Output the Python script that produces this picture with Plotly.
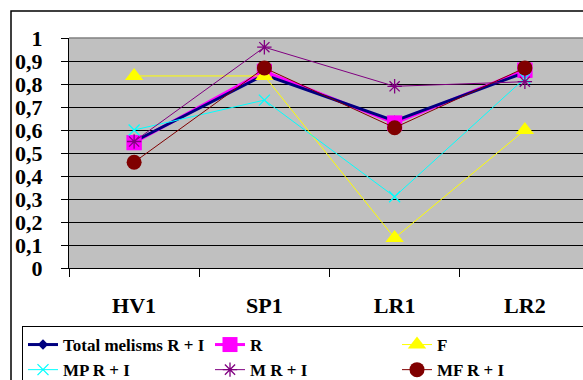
import plotly.graph_objects as go

categories = ["HV1", "SP1", "LR1", "LR2"]
total = [0.55, 0.84, 0.64, 0.85]
r_vals = [0.545, 0.855, 0.63, 0.86]
f_vals = [0.835, 0.835, 0.13, 0.60]
mp_vals = [0.60, 0.73, 0.31, 0.825]
m_vals = [0.55, 0.96, 0.79, 0.81]
mf_vals = [0.46, 0.87, 0.61, 0.87]

y_tickvals = [0, 0.1, 0.2, 0.3, 0.4, 0.5, 0.6, 0.7, 0.8, 0.9, 1]
y_ticktext = ["0", "0,1", "0,2", "0,3", "0,4", "0,5", "0,6", "0,7", "0,8", "0,9", "1"]

FONT = "Liberation Serif"

r_marker = dict(symbol="square", size=15, color="#FF00FF")

fig = go.Figure()
# R line drawn first so the navy line sits on top of it
fig.add_trace(go.Scatter(x=categories, y=r_vals, name="R", mode="lines+markers",
                         line=dict(color="#FF00FF", width=3), marker=r_marker, legendrank=2))
fig.add_trace(go.Scatter(x=categories, y=total, name="Total melisms R + I", mode="lines+markers",
                         line=dict(color="#000080", width=3),
                         marker=dict(symbol="diamond", size=8, color="#000080"), legendrank=1))
# R markers on top of the navy diamonds
fig.add_trace(go.Scatter(x=categories, y=r_vals, name="R", mode="markers",
                         marker=r_marker, showlegend=False))
fig.add_trace(go.Scatter(x=categories, y=f_vals, name="F", mode="lines+markers",
                         line=dict(color="#FFFF00", width=1),
                         marker=dict(symbol="triangle-up", size=16, color="#FFFF00"), legendrank=3))
fig.add_trace(go.Scatter(x=categories, y=mp_vals, name="MP R + I", mode="lines+markers",
                         line=dict(color="#00FFFF", width=1),
                         marker=dict(symbol="x-thin-open", size=11, color="#00FFFF",
                                     line=dict(color="#00FFFF", width=1.3)), legendrank=4))
fig.add_trace(go.Scatter(x=categories, y=m_vals, name="M R + I", mode="lines+markers",
                         line=dict(color="#800080", width=1),
                         marker=dict(symbol="asterisk-open", size=12, color="#800080",
                                     line=dict(color="#800080", width=1.3)), legendrank=5))
fig.add_trace(go.Scatter(x=categories, y=mf_vals, name="MF R + I", mode="lines+markers",
                         line=dict(color="#800000", width=1),
                         marker=dict(symbol="circle", size=15, color="#800000"), legendrank=6))

W, H = 583, 380
L, T, B = 69, 38, 268
pw = W - L
ph = B - T

def px_x(x):
    return (x - L) / pw

def px_y(y):
    return (B - y) / ph

fig.update_layout(
    width=W, height=H,
    margin=dict(l=L, r=0, t=T, b=H - B, autoexpand=False),
    paper_bgcolor="white",
    plot_bgcolor="#C0C0C0",
    font=dict(family=FONT, color="black"),
    showlegend=True,
    legend=dict(
        orientation="h",
        x=px_x(22), xanchor="left",
        y=px_y(326), yanchor="top",
        bgcolor="white",
        bordercolor="black", borderwidth=1,
        font=dict(family=FONT, size=17, color="black", weight="bold"),
        entrywidth=142, entrywidthmode="pixels",
        itemwidth=30,
        traceorder="normal",
    ),
    xaxis=dict(
        type="category", categoryorder="array", categoryarray=categories,
        range=[-0.5, 3.5 - (590 - 583) / 130.3],
        tickson="boundaries", ticks="outside", ticklen=8, tickcolor="black",
        showline=True, linecolor="black", linewidth=1,
        showgrid=False, zeroline=False,
        tickfont=dict(family=FONT, size=22, color="black", weight="bold"),
        ticklabelstandoff=18,
    ),
    yaxis=dict(
        range=[0, 1], tickvals=y_tickvals, ticktext=y_ticktext,
        ticks="outside", ticklen=7, tickcolor="black",
        showline=True, linecolor="black", linewidth=1,
        showgrid=True, gridcolor="black", gridwidth=1,
        zeroline=False,
        tickfont=dict(family=FONT, size=22, color="black", weight="bold"),
        ticklabelstandoff=14,
    ),
)

# top plot-area border (gray)
fig.add_shape(type="line", xref="paper", yref="paper", x0=0, x1=1, y0=1, y1=1,
              line=dict(color="#808080", width=1.5), layer="between")
# outer chart border
fig.add_shape(type="rect", xref="paper", yref="paper",
              x0=px_x(11), x1=1.2, y0=-0.8, y1=px_y(11),
              line=dict(color="black", width=1.5), fillcolor="rgba(0,0,0,0)", layer="above")

fig.write_html("out.html")
